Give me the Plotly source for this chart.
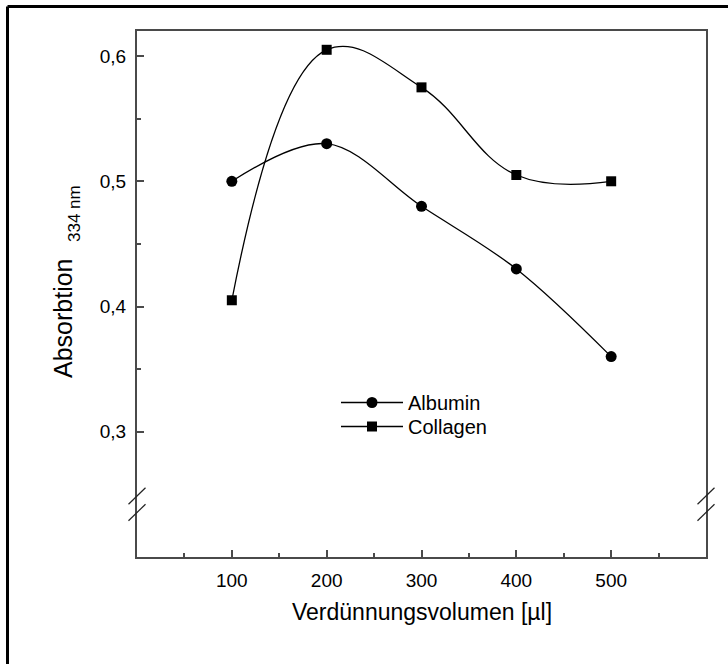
import plotly.graph_objects as go

# ---- data ----
volumes = [100, 200, 300, 400, 500]
albumin = [0.500, 0.530, 0.480, 0.430, 0.360]
collagen = [0.405, 0.605, 0.575, 0.505, 0.500]

x_tickvals = [100, 200, 300, 400, 500]
x_ticktext = ["100", "200", "300", "400", "500"]
x_minor = [50, 150, 250, 350, 450, 550]
y_tickvals = [0.3, 0.4, 0.5, 0.6]
y_ticktext = ["0,3", "0,4", "0,5", "0,6"]
y_minor = [0.35, 0.45, 0.55]

FONT = "Arial, Liberation Sans, sans-serif"
AXC = "#4a4a4a"

fig = go.Figure()
fig.add_trace(go.Scatter(
    x=volumes, y=albumin, name="Albumin", mode="lines+markers", legend="legend",
    line=dict(color="black", width=1.3, shape="spline", smoothing=1.0),
    marker=dict(symbol="circle", size=11, color="black"),
))
fig.add_trace(go.Scatter(
    x=volumes, y=collagen, name="Collagen", mode="lines+markers", legend="legend2",
    line=dict(color="black", width=1.3, shape="spline", smoothing=1.15),
    marker=dict(symbol="square", size=10, color="black"),
))

W, H = 728, 664
L, R, T, B = 137, 22, 31, 107
pw, ph = W - L - R, H - T - B

def px(x):
    return (x - L) / pw

def py(y):
    return (H - B - y) / ph

shapes = []
# outer frame (top and left visible)
shapes.append(dict(type="line", xref="paper", yref="paper", x0=px(7.5), x1=px(760),
                   y0=py(6.5), y1=py(6.5), line=dict(color="black", width=3)))
shapes.append(dict(type="line", xref="paper", yref="paper", x0=px(7.5), x1=px(7.5),
                   y0=py(6.5), y1=py(700), line=dict(color="black", width=3)))
# axis break marks
for xc in (137, 706):
    for yc in (496, 512.5):
        shapes.append(dict(type="line", xref="paper", yref="paper",
                           x0=px(xc - 8.5), x1=px(xc + 8.5),
                           y0=py(yc + 8.3), y1=py(yc - 8.3),
                           line=dict(color="#222", width=1.2)))

leg_common = dict(xanchor="left", yanchor="top", bgcolor="rgba(0,0,0,0)",
                  font=dict(size=20), itemwidth=62)

fig.update_layout(
    width=W, height=H,
    margin=dict(l=L, r=R, t=T, b=B),
    paper_bgcolor="white", plot_bgcolor="white",
    font=dict(family=FONT, color="black", size=19),
    showlegend=True,
    legend=dict(x=px(336), y=py(383), **leg_common),
    legend2=dict(x=px(336), y=py(407), **leg_common),
    shapes=shapes,
    annotations=[
        dict(text="Absorbtion", textangle=-90, xref="paper", yref="paper",
             x=px(63), y=py(318), xanchor="center", yanchor="middle",
             showarrow=False, font=dict(size=25)),
        dict(text="334 nm", textangle=-90, xref="paper", yref="paper",
             x=px(74), y=py(214), xanchor="center", yanchor="middle",
             showarrow=False, font=dict(size=17)),
        dict(text="Verdünnungsvolumen [µl]", xref="paper", yref="paper",
             x=0.5, y=py(612), xanchor="center", yanchor="middle",
             showarrow=False, font=dict(size=23)),
    ],
)

fig.update_xaxes(
    range=[0, 600], showgrid=False, zeroline=False,
    showline=True, linecolor=AXC, linewidth=2, mirror=True,
    ticks="inside", ticklen=7, tickwidth=1.5, tickcolor=AXC, ticklabelstandoff=5,
    tickvals=x_tickvals, ticktext=x_ticktext, tickfont=dict(size=19),
    minor=dict(tickvals=x_minor, ticks="inside", ticklen=4, tickwidth=1.5, tickcolor=AXC, showgrid=False),
)
fig.update_yaxes(
    range=[0.2, 0.62], showgrid=False, zeroline=False,
    showline=True, linecolor=AXC, linewidth=2, mirror=True,
    ticks="inside", ticklen=7, tickwidth=1.5, tickcolor=AXC, ticklabelstandoff=5,
    tickvals=y_tickvals, ticktext=y_ticktext, tickfont=dict(size=19),
    minor=dict(tickvals=y_minor, ticks="inside", ticklen=4, tickwidth=1.5, tickcolor=AXC, showgrid=False),
)

fig.write_html("out.html")
